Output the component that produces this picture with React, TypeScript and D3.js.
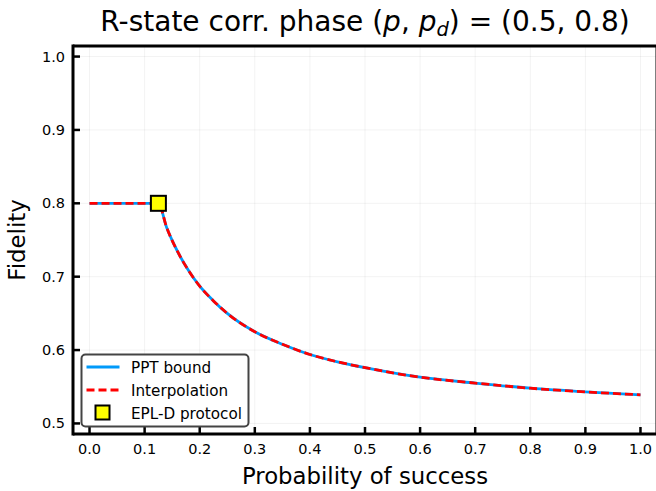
import React, { useEffect, useRef } from 'react';
import * as d3 from 'd3';

// values
const probability = [0, 0.125, 0.14, 0.16, 0.18, 0.2, 0.225, 0.25, 0.3, 0.35, 0.4, 0.45, 0.5, 0.6, 0.7, 0.8, 0.9, 1.0];
const pptBound = [0.8, 0.8, 0.767, 0.734, 0.708, 0.687, 0.667, 0.65, 0.625, 0.608, 0.594, 0.584, 0.576, 0.563, 0.555, 0.548, 0.543, 0.539];
const interpolation = [0.8, 0.8, 0.767, 0.734, 0.708, 0.687, 0.667, 0.65, 0.625, 0.608, 0.594, 0.584, 0.576, 0.563, 0.555, 0.548, 0.543, 0.539];
const eplProtocol = [{ p: 0.125, f: 0.8 }];
const xTicks = [0, 0.1, 0.2, 0.3, 0.4, 0.5, 0.6, 0.7, 0.8, 0.9, 1.0];
const yTicks = [0.5, 0.6, 0.7, 0.8, 0.9, 1.0];
const legendItems = ['PPT bound', 'Interpolation', 'EPL-D protocol'];

const App: React.FC = () => {
  const svgRef = useRef<SVGSVGElement>(null);

  useEffect(() => {
    if (!svgRef.current) return;
    const svg = d3.select(svgRef.current);
    svg.selectAll('*').remove();

    const width = 656;
    const height = 491;
    const left = 73;
    const right = 657;
    const top = 46;
    const bottom = 434;
    const font = 'DejaVu Sans, sans-serif';

    const x = d3.scaleLinear().domain([-0.03, 1.03]).range([left, right]);
    const y = d3.scaleLinear().domain([0.4856, 1.0144]).range([bottom, top]);

    svg.attr('width', width).attr('height', height);
    svg.append('rect').attr('width', width).attr('height', height).attr('fill', '#fff');

    // grid
    const grid = svg.append('g').attr('stroke', '#000').attr('stroke-opacity', 0.05).attr('stroke-width', 1);
    grid.selectAll('.gx').data(xTicks).enter().append('line')
      .attr('x1', (d) => x(d)).attr('x2', (d) => x(d)).attr('y1', top).attr('y2', bottom);
    grid.selectAll('.gy').data(yTicks).enter().append('line')
      .attr('x1', left).attr('x2', right).attr('y1', (d) => y(d)).attr('y2', (d) => y(d));

    // series
    const line = d3.line<number>()
      .x((_, i) => x(probability[i]))
      .curve(d3.curveMonotoneX);

    svg.append('path')
      .attr('fill', 'none')
      .attr('stroke', '#009AFA')
      .attr('stroke-width', 2.8)
      .attr('d', line.y((d) => y(d))(pptBound));

    svg.append('path')
      .attr('fill', 'none')
      .attr('stroke', '#FF0000')
      .attr('stroke-width', 2.8)
      .attr('stroke-dasharray', '8,4')
      .attr('d', line.y((d) => y(d))(interpolation));

    // marker
    svg.selectAll('.epl').data(eplProtocol).enter().append('rect')
      .attr('x', (d) => x(d.p) - 7.5)
      .attr('y', (d) => y(d.f) - 7.5)
      .attr('width', 15)
      .attr('height', 15)
      .attr('fill', '#FFFF00')
      .attr('stroke', '#000')
      .attr('stroke-width', 2);

    // axes frame
    const axis = svg.append('g').attr('stroke', '#000').attr('stroke-width', 3).attr('fill', 'none');
    axis.append('line').attr('x1', left).attr('x2', right).attr('y1', top).attr('y2', top);
    axis.append('line').attr('x1', left).attr('x2', left).attr('y1', top - 1.5).attr('y2', bottom + 1.5);
    axis.append('line').attr('x1', left).attr('x2', right).attr('y1', bottom).attr('y2', bottom);
    axis.append('line').attr('x1', right).attr('x2', right).attr('y1', top).attr('y2', bottom);

    const ticks = svg.append('g').attr('stroke', '#000').attr('stroke-width', 2.5);
    ticks.selectAll('.tx').data(xTicks).enter().append('line')
      .attr('x1', (d) => x(d)).attr('x2', (d) => x(d)).attr('y1', bottom).attr('y2', bottom - 7);
    ticks.selectAll('.ty').data(yTicks).enter().append('line')
      .attr('x1', left).attr('x2', left + 7).attr('y1', (d) => y(d)).attr('y2', (d) => y(d));

    // tick labels
    svg.selectAll('.lx').data(xTicks).enter().append('text')
      .attr('x', (d) => x(d))
      .attr('y', 454)
      .attr('text-anchor', 'middle')
      .attr('font-family', font)
      .attr('font-size', 14.5)
      .text((d) => d.toFixed(1));
    svg.selectAll('.ly').data(yTicks).enter().append('text')
      .attr('x', 65)
      .attr('y', (d) => y(d) + 5)
      .attr('text-anchor', 'end')
      .attr('font-family', font)
      .attr('font-size', 14.5)
      .text((d) => d.toFixed(1));

    // axis labels
    svg.append('text')
      .attr('x', (left + right) / 2)
      .attr('y', 484)
      .attr('text-anchor', 'middle')
      .attr('font-family', font)
      .attr('font-size', 22.8)
      .text('Probability of success');
    svg.append('text')
      .attr('transform', `translate(25, ${(top + bottom) / 2}) rotate(-90)`)
      .attr('text-anchor', 'middle')
      .attr('font-family', font)
      .attr('font-size', 22.8)
      .text('Fidelity');

    // title
    const title = svg.append('text')
      .attr('x', (left + right) / 2)
      .attr('y', 31)
      .attr('text-anchor', 'middle')
      .attr('font-family', font)
      .attr('font-size', 28);
    title.append('tspan').text('R-state corr. phase (');
    title.append('tspan').attr('font-style', 'italic').text('p');
    title.append('tspan').text(', ');
    title.append('tspan').attr('font-style', 'italic').text('p');
    title.append('tspan').attr('font-style', 'italic').attr('font-size', 19.5).attr('dy', 5).text('d');
    title.append('tspan').attr('dy', -5).text(') = (0.5, 0.8)');

    // legend
    const lg = svg.append('g').attr('transform', 'translate(81.5, 354.5)');
    lg.append('rect')
      .attr('width', 167)
      .attr('height', 72)
      .attr('rx', 4)
      .attr('fill', '#fff')
      .attr('stroke', '#444')
      .attr('stroke-width', 2);
    const rows = lg.selectAll('.row').data(legendItems).enter().append('g')
      .attr('transform', (_, i) => `translate(0, ${12.5 + i * 23})`);
    rows.append('text')
      .attr('x', 49.5)
      .attr('y', 5.5)
      .attr('font-family', font)
      .attr('font-size', 15.2)
      .text((d) => d);
    lg.append('line').attr('x1', 5).attr('x2', 38).attr('y1', 12.5).attr('y2', 12.5)
      .attr('stroke', '#009AFA').attr('stroke-width', 2.8);
    lg.append('line').attr('x1', 5).attr('x2', 38).attr('y1', 35.5).attr('y2', 35.5)
      .attr('stroke', '#FF0000').attr('stroke-width', 2.8).attr('stroke-dasharray', '8,4');
    lg.append('rect').attr('x', 14).attr('y', 51).attr('width', 14).attr('height', 14)
      .attr('fill', '#FFFF00').attr('stroke', '#000').attr('stroke-width', 2);
  }, []);

  return (
    <div style={{ position: 'fixed', left: 0, top: 0 }}>
      <svg ref={svgRef} style={{ display: 'block' }} />
    </div>
  );
};

export default App;
